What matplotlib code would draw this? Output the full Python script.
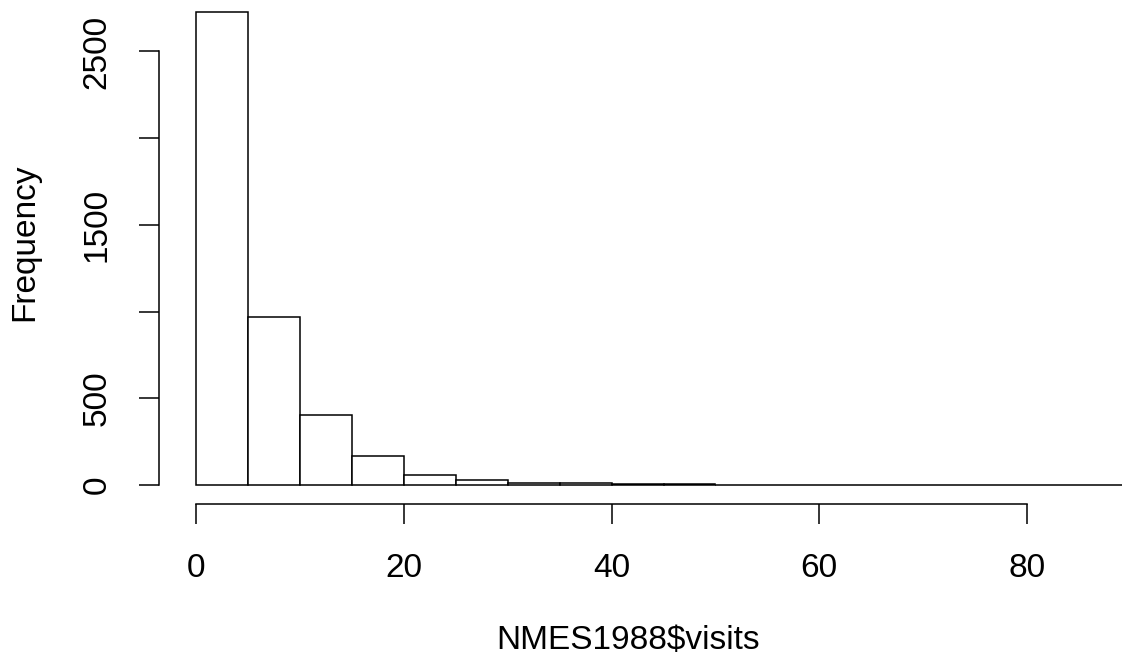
import numpy as np
import matplotlib
matplotlib.use("Agg")
import matplotlib.pyplot as plt

# histogram of NMES1988$visits, bin width 5
bin_edges = [0, 5, 10, 15, 20, 25, 30, 35, 40, 45, 50, 55, 60, 65, 70, 75, 80, 85, 90]
counts = [2728, 969, 404, 165, 60, 30, 11, 14, 7, 4, 3, 2, 2, 1, 1, 0, 0, 1]
xticks = [0, 20, 40, 60, 80]
yticks = [0, 500, 1000, 1500, 2000, 2500]
ytick_labels = ["0", "500", "", "1500", "", "2500"]

plt.rcParams['font.family'] = ['Liberation Sans', 'DejaVu Sans']
FS = 24

W, H = 1122, 658
fig = plt.figure(figsize=(W / 100, H / 100), dpi=100)

# plot region in pixels (R style, 4% padding around data range)
left_px, bottom_px, width_px, height_px = 159, 504, 1009, 511
ax = fig.add_axes([left_px / W, (H - bottom_px) / H, width_px / W, height_px / H])

lw = 1.1
ax.bar(bin_edges[:-1], counts, width=5, align='edge', facecolor='white',
       edgecolor='black', linewidth=lw)

ax.set_xlim(-3.6, 93.6)
ax.set_ylim(-0.04 * max(counts), 1.04 * max(counts))

for s in ['top', 'right']:
    ax.spines[s].set_visible(False)
ax.spines['bottom'].set_bounds(0, 80)
ax.spines['left'].set_bounds(0, 2500)
ax.spines['bottom'].set_linewidth(lw)
ax.spines['left'].set_linewidth(lw)

ax.set_xticks(xticks)
ax.set_yticks(yticks)
ax.set_yticklabels(ytick_labels, rotation=90, va='center')
ax.tick_params(axis='both', direction='out', length=14.4, width=lw,
               labelsize=FS)
ax.tick_params(axis='x', pad=21)
ax.tick_params(axis='y', pad=19)

fig.text(628 / W, 1 - 641 / H, "NMES1988$visits",
         ha='center', va='center', fontsize=FS)
fig.text(25 / W, 1 - 242 / H, "Frequency", ha='center', va='center',
         rotation=90, fontsize=FS)

fig.savefig("out.png", dpi=100)
